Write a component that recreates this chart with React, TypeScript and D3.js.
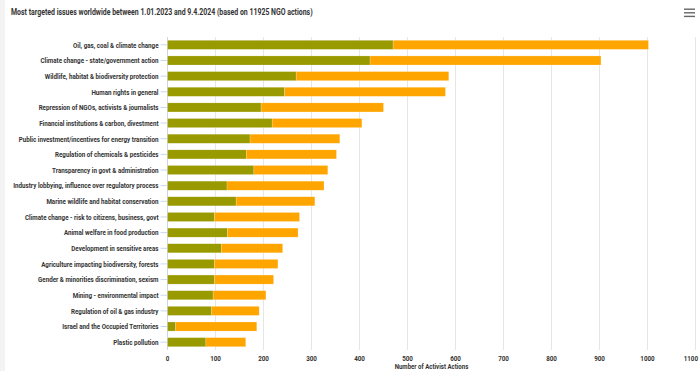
import React from 'react'
import { scaleLinear, scaleBand, range } from 'd3'

const issues = [
  'Oil, gas, coal & climate change',
  'Climate change - state/government action',
  'Wildlife, habitat & biodiversity protection',
  'Human rights in general',
  'Repression of NGOs, activists & journalists',
  'Financial institutions & carbon, divestment',
  'Public investment/incentives for energy transition',
  'Regulation of chemicals & pesticides',
  'Transparency in govt & administration',
  'Industry lobbying, influence over regulatory process',
  'Marine wildlife and habitat conservation',
  'Climate change - risk to citizens, business, govt',
  'Animal welfare in food production',
  'Development in sensitive areas',
  'Agriculture impacting biodiversity, forests',
  'Gender & minorities discrimination, sexism',
  'Mining - environmental impact',
  'Regulation of oil & gas industry',
  'Israel and the Occupied Territories',
  'Plastic pollution',
]

// green segment (left) and orange segment (right)
const greenVals = [470, 422, 268, 244, 195, 218, 172, 164, 180, 124, 143, 98, 125, 112, 98, 98, 95, 92, 17, 80]
const orangeVals = [532, 481, 318, 335, 255, 187, 187, 188, 154, 202, 164, 177, 147, 128, 132, 123, 110, 99, 169, 83]

const xTicks = range(0, 1200, 100)

const W = 700, H = 371
const plot = { left: 167.5, right: 695.5, top: 37, bottom: 350 }
const SX = 0.8 // narrow the text horizontally

function Txt({ x, y, anchor, size, weight, children }: any) {
  return (
    <text transform={`translate(${x},${y}) scale(${SX},1)`} textAnchor={anchor} fontSize={size} fontWeight={weight} fill="#333">
      {children}
    </text>
  )
}

function App() {
  const x = scaleLinear().domain([0, 1100]).range([plot.left, plot.right])
  const y = scaleBand().domain(issues).range([plot.top, plot.bottom]).paddingInner(0.42).paddingOuter(0.21)
  const font = 'Roboto, "Noto Sans", sans-serif'

  return (
    <div style={{ position: 'absolute', left: 0, top: 0 }}>
      <svg width={W} height={H} style={{ display: 'block' }} fontFamily={font}>
        <rect x={0} y={0} width={W} height={H} fill="#fff" />
        <rect x={0} y={0} width={5} height={H} fill="#f3f3f3" />
        <Txt x={11} y={15} anchor="start" size={8.7} weight={700}>
          Most targeted issues worldwide between 1.01.2023 and 9.4.2024 (based on 11925 NGO actions)
        </Txt>
        {/* menu icon */}
        {[0, 1, 2].map(i => (
          <rect key={i} x={684} y={8.5 + i * 3.6} width={11} height={1.4} fill="#666" />
        ))}
        {xTicks.map(t => (
          <line key={t} x1={x(t)} x2={x(t)} y1={plot.top} y2={plot.bottom} stroke="#e6e6e6" strokeWidth={1} />
        ))}
        <line x1={plot.left} x2={plot.left} y1={plot.top} y2={plot.bottom} stroke="#ccd6eb" strokeWidth={1} />
        {issues.map((d, i) => {
          const cy = y(d)! + y.bandwidth() / 2
          return (
            <g key={d}>
              <line x1={plot.left - 7} x2={plot.left} y1={cy} y2={cy} stroke="#ccd6eb" />
              <Txt x={plot.left - 9} y={cy + 2.8} anchor="end" size={7.8} weight={700}>{d}</Txt>
              <rect x={x(0)} y={y(d)} width={x(greenVals[i]) - x(0)} height={y.bandwidth()} fill="#999900" stroke="#fff" strokeOpacity={0.4} strokeWidth={0.5} />
              <rect x={x(greenVals[i])} y={y(d)} width={x(greenVals[i] + orangeVals[i]) - x(greenVals[i])} height={y.bandwidth()} fill="#ffa500" stroke="#fff" strokeOpacity={0.4} strokeWidth={0.5} />
            </g>
          )
        })}
        {xTicks.map((t, i) => {
          const last = i === xTicks.length - 1
          return (
            <Txt key={t} x={last ? W - 2 : x(t)} y={361} anchor={last ? 'end' : 'middle'} size={7.8} weight={700}>{t}</Txt>
          )
        })}
        <Txt x={(plot.left + plot.right) / 2} y={369} anchor="middle" size={7.6} weight={700}>
          Number of Activist Actions
        </Txt>
      </svg>
    </div>
  )
}

export default App
